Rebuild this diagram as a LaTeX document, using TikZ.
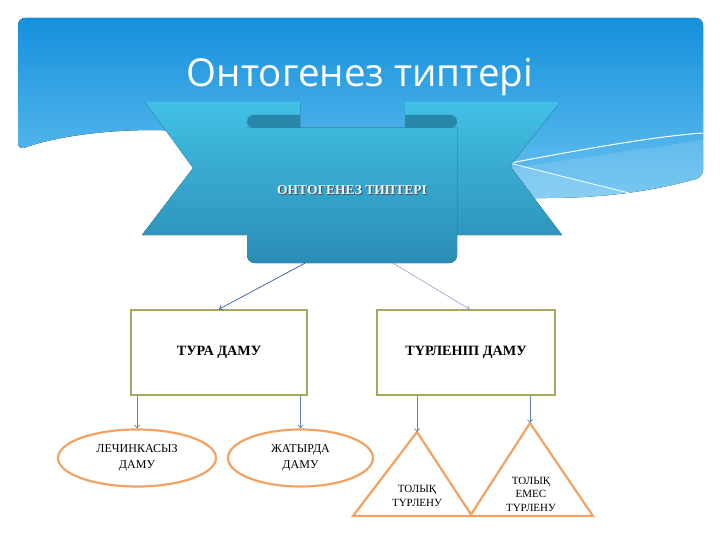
\documentclass[tikz,border=0pt]{standalone}
\usepackage{fontspec}
\setmainfont{Liberation Serif}
\newfontfamily\titlefont{Open Sans}
\usetikzlibrary{arrows.meta,shapes.geometric,calc}
\definecolor{bgtop}{HTML}{1590DC}
\definecolor{bgbot}{HTML}{68C2F0}
\definecolor{wingtop}{HTML}{42C0E5}
\definecolor{panelbot}{HTML}{2A8CB4}
\definecolor{tabcol}{HTML}{2A87AC}
\definecolor{boxline}{HTML}{A8A85C}
\definecolor{orangeline}{HTML}{F2A263}
\definecolor{arrowdark}{HTML}{2F5E9E}
\definecolor{arrowlight}{HTML}{8A8AC8}
\definecolor{arrowmid}{HTML}{5A83B0}
\newcommand{\myBluePath}{(18,150) -- (18,18) -- (703,18) -- (703,177)
  .. controls (650,192) and (600,198) .. (540,198) -- (350,200) -- (180,131)
  .. controls (120,128) and (60,135) .. (18,150) -- cycle}
\newcommand{\ribbonShade}{\fill[top color=wingtop, bottom color=panelbot] (138,102) rectangle (566,264);}
\begin{document}
\begin{tikzpicture}[x=1pt,y=-1pt,
  box/.style={draw=boxline, line width=1.6pt, fill=white, minimum height=85pt,
    font=\bfseries\fontsize{14.2}{16}\selectfont, inner sep=0pt},
  ellbox/.style={ellipse, draw=orangeline, line width=2.2pt, fill=white, minimum height=57pt,
    font=\fontsize{12}{16}\selectfont, align=center, inner sep=0pt},
  trilabel/.style={font=\fontsize{11}{13.5}\selectfont, align=center, inner sep=0pt},
  tri/.style={draw=orangeline, line width=2.2pt, fill=white, line join=miter},
  conn/.style={line width=0.7pt, -{Straight Barb[length=3pt,width=5pt]}},
]
\useasboundingbox (0,0) rectangle (720,540);
% background header
\fill[top color=bgtop, bottom color=bgbot, rounded corners=7pt] \myBluePath;
\begin{scope}
  \clip[rounded corners=7pt] \myBluePath;
  \fill[white, opacity=0.12] (512,168) -- (703,140) -- (703,210) -- (512,210) -- cycle;
  \fill[white, opacity=0.12] (512,163) -- (640,196) -- (512,210) -- cycle;
  \draw[white, line width=1pt] (505,164) .. controls (600,146) and (660,136) .. (703,133);
  \draw[white, line width=0.8pt] (505,162) -- (645,197);
\end{scope}
% title
\node[text=white, font=\titlefont\fontsize{38.5}{40}\selectfont] (title) at (360,77) {Онтогенез типтері};
% ribbon wings
\begin{scope}
  \clip (145,102) -- (300,102) -- (300,128) -- (405,128) -- (405,102) -- (560,102)
    -- (510,166) -- (562,235) -- (142,235) -- (193,168) -- cycle;
  \ribbonShade
\end{scope}
% panel
\node[minimum width=210pt, minimum height=135pt, inner sep=0pt] (panel) at (352,195.5) {};
\begin{scope}
  \clip (247,128) -- (457,128) -- (457,255) arc[start angle=0, end angle=90, radius=8]
    -- (255,263) arc[start angle=90, end angle=180, radius=8] -- cycle;
  \ribbonShade
\end{scope}
\fill[tabcol] (300,115) [rounded corners=6.5pt] -- (247,115) -- (247,128) [sharp corners] -- (300,128) -- cycle;
\fill[tabcol] (405,115) [rounded corners=6.5pt] -- (457,115) -- (457,128) [sharp corners] -- (405,128) -- cycle;
\node[text=black!70, font=\bfseries\fontsize{13.5}{15}\selectfont] (ribshadow) at (353,191) {ОНТОГЕНЕЗ ТИПТЕРІ};
\node[text=white!92!cyan, font=\bfseries\fontsize{13.5}{15}\selectfont] (ribtext) at (352,190) {ОНТОГЕНЕЗ ТИПТЕРІ};
% boxes
\node[box, minimum width=176pt] (lbox) at (219,352.5) {ТУРА ДАМУ};
\node[box, minimum width=178pt] (rbox) at (466,352.5) {ТҮРЛЕНІП ДАМУ};
\draw[conn, arrowdark] ($(panel.south west)!0.276!(panel.south east)$) -- (lbox.north);
\draw[conn, arrowlight, line width=0.5pt] ($(panel.south west)!0.695!(panel.south east)$) -- ($(rbox.north west)!0.52!(rbox.north east)$);
% ellipses
\node[ellbox, minimum width=158pt] (e1) at (137,458) {ЛЕЧИНКАСЫЗ\\ДАМУ};
\node[ellbox, minimum width=145pt] (e2) at (300.5,458) {ЖАТЫРДА\\ДАМУ};
\draw[conn, arrowmid] (e1.north |- lbox.south) -- (e1.north);
\draw[conn, arrowmid] (e2.north |- lbox.south) -- (e2.north);
% triangles
\coordinate (t1apex) at (417,432);
\coordinate (t2apex) at (530,423);
\draw[tri] (t1apex) -- (472,516) -- (353,516) -- cycle;
\draw[tri] (t2apex) -- (593,516) -- (470,516) -- cycle;
\node[trilabel] (t1) at (417,496) {ТОЛЫҚ\\ТҮРЛЕНУ};
\node[trilabel] (t2) at (531,494) {ТОЛЫҚ\\ЕМЕС\\ТҮРЛЕНУ};
\draw[conn, arrowmid] (t1apex |- rbox.south) -- (t1apex);
\draw[conn, arrowmid] (t2apex |- rbox.south) -- (t2apex);
\end{tikzpicture}
\end{document}
